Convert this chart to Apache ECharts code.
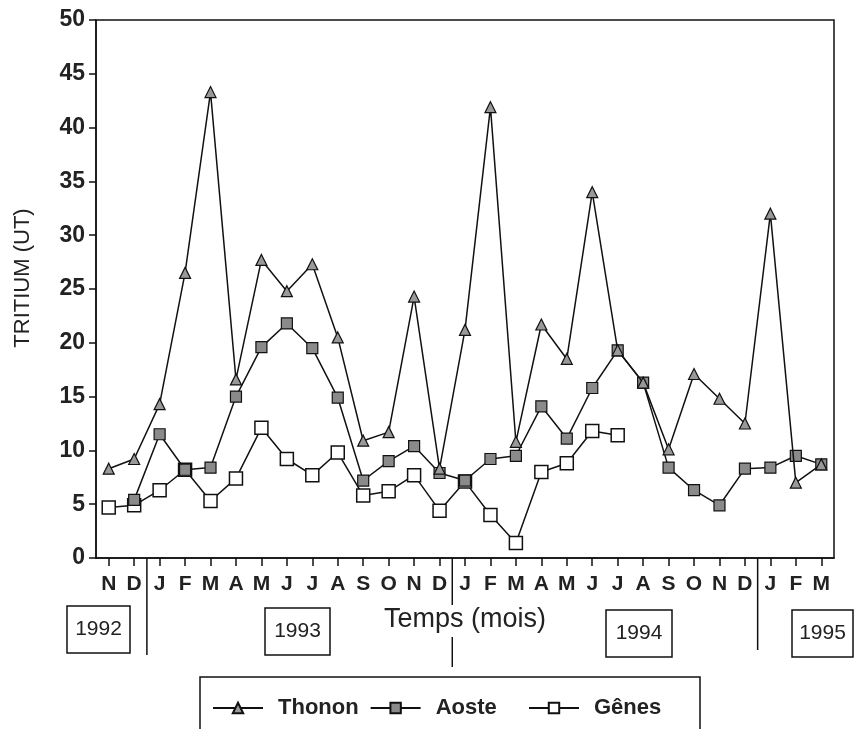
<!DOCTYPE html>
<html>
<head>
<meta charset="utf-8">
<script src="https://cdn.jsdelivr.net/npm/echarts@6/dist/echarts.min.js"></script>
<style>
html,body{margin:0;padding:0;background:#fff;}
#c{width:854px;height:729px;}
</style>
</head>
<body>
<div id="c"></div>
<script>
const months = ['N','D','J','F','M','A','M','J','J','A','S','O','N','D','J','F','M','A','M','J','J','A','S','O','N','D','J','F','M'];
const yTicks = [0,5,10,15,20,25,30,35,40,45,50];
const years = ['1992','1993','1994','1995'];
const thonon = [8.3, 9.2, 14.3, 26.5, 43.3, 16.6, 27.7, 24.8, 27.3, 20.5, 10.9, 11.7, 24.3, 8.3, 21.2, 41.9, 10.8, 21.7, 18.5, 34.0, 19.3, 16.3, 10.1, 17.1, 14.8, 12.5, 32.0, 7.0, 8.7];
const aoste = [null, 5.4, 11.5, 8.2, 8.4, 15.0, 19.6, 21.8, 19.5, 14.9, 7.2, 9.0, 10.4, 7.9, 7.2, 9.2, 9.5, 14.1, 11.1, 15.8, 19.3, 16.3, 8.4, 6.3, 4.9, 8.3, 8.4, 9.5, 8.7];
const genes = [4.7, 4.9, 6.3, 8.2, 5.3, 7.4, 12.1, 9.2, 7.7, 9.8, 5.8, 6.2, 7.7, 4.4, 7.1, 4.0, 1.4, 8.0, 8.8, 11.8, 11.4, null, null, null, null, null, null, null, null];

const FONT = '"Liberation Sans", Arial, sans-serif';
const INK = '#111';
const chart = echarts.init(document.getElementById('c'), null, {renderer:'canvas'});

const lineStyle = {color: INK, width: 1.5};
chart.setOption({
  animation: false,
  backgroundColor: '#fff',
  grid: {left: 96, right: 20, top: 20, bottom: 171, show: true, borderColor: INK, borderWidth: 1.5, backgroundColor: 'transparent'},
  legend: [
    {
      data: ['Thonon', 'Aoste'],
      left: 212, top: 697, padding: 0,
      itemWidth: 50, itemHeight: 13, itemGap: 11,
      textStyle: {fontFamily: FONT, fontSize: 22, fontWeight: 'bold', color: '#222', padding: [0,0,0,10]}
    },
    {
      data: ['Gênes'],
      left: 528, top: 697, padding: 0,
      itemWidth: 50, itemHeight: 13,
      textStyle: {fontFamily: FONT, fontSize: 22, fontWeight: 'bold', color: '#222', padding: [0,0,0,10]}
    }
  ],
  xAxis: {
    type: 'category',
    data: months,
    boundaryGap: true,
    name: 'Temps (mois)',
    nameLocation: 'middle',
    nameGap: 48,
    nameTextStyle: {fontFamily: FONT, fontSize: 27, color: '#222', padding: [0,0,0,0]},
    axisLine: {lineStyle: {color: INK, width: 1.5}},
    axisTick: {show: true, alignWithLabel: true, interval: 0, length: 8, lineStyle: {color: INK, width: 1.5}},
    axisLabel: {interval: 0, margin: 16, fontFamily: FONT, fontSize: 21, fontWeight: 'bold', color: '#222'},
    splitLine: {show: false}
  },
  yAxis: {
    type: 'value',
    min: yTicks[0], max: yTicks[yTicks.length-1], interval: yTicks[1]-yTicks[0],
    name: 'TRITIUM (UT)',
    nameLocation: 'middle',
    nameGap: 62,
    nameRotate: 90,
    nameTextStyle: {fontFamily: FONT, fontSize: 22, color: '#222', padding: [0,0,0,22]},
    axisLine: {show: true, lineStyle: {color: INK, width: 1.5}},
    axisTick: {show: true, length: 7, lineStyle: {color: INK, width: 1.5}},
    axisLabel: {margin: 11, fontFamily: FONT, fontSize: 23, fontWeight: 'bold', color: '#222'},
    splitLine: {show: false}
  },
  series: [
    {
      name: 'Gênes', type: 'line', data: genes, z: 2,
      symbol: 'rect', symbolSize: 13,
      lineStyle: lineStyle,
      itemStyle: {color: '#fff', borderColor: INK, borderWidth: 1.5}
    },
    {
      name: 'Aoste', type: 'line', data: aoste, z: 3,
      symbol: 'rect', symbolSize: 11,
      lineStyle: lineStyle,
      itemStyle: {color: '#8a8a8a', borderColor: INK, borderWidth: 1.2}
    },
    {
      name: 'Thonon', type: 'line', data: thonon, z: 4,
      symbol: 'triangle', symbolSize: 11,
      lineStyle: lineStyle,
      itemStyle: {color: '#999', borderColor: INK, borderWidth: 1.2}
    }
  ]
});

function px(i){ return chart.convertToPixel({xAxisIndex: 0}, i); }
function mid(i){ return (px(i) + px(i+1)) / 2; }
const yBase = chart.convertToPixel({yAxisIndex: 0}, 0);
const s1 = mid(1), s2 = mid(13), s3 = mid(25);
const seg = (x, y1, y2) => ({type: 'line', shape: {x1: x, y1: y1, x2: x, y2: y2}, style: {stroke: INK, lineWidth: 1.5}, z: 10});
const box = (x, y, w, h, t) => ([
  {type: 'rect', shape: {x: x, y: y, width: w, height: h}, style: {fill: '#fff', stroke: INK, lineWidth: 1.5}, z: 10},
  {type: 'text', x: x + w/2, y: y + h/2, style: {text: t, font: '21px ' + FONT, fill: '#222', align: 'center', verticalAlign: 'middle'}, z: 11}
]);
chart.setOption({
  graphic: [
    seg(s1, yBase, 655),
    seg(s2, yBase, 605),
    seg(s2, 637, 667),
    seg(s3, yBase, 650),
    ...box(67, 606, 63, 47, years[0]),
    ...box(265, 608, 65, 47, years[1]),
    ...box(606, 610, 66, 47, years[2]),
    ...box(792, 610, 61, 47, years[3]),
    {type: 'rect', shape: {x: 200, y: 677, width: 500, height: 70}, style: {fill: 'none', stroke: INK, lineWidth: 1.5}, z: 10}
  ]
});
</script>
</body>
</html>
